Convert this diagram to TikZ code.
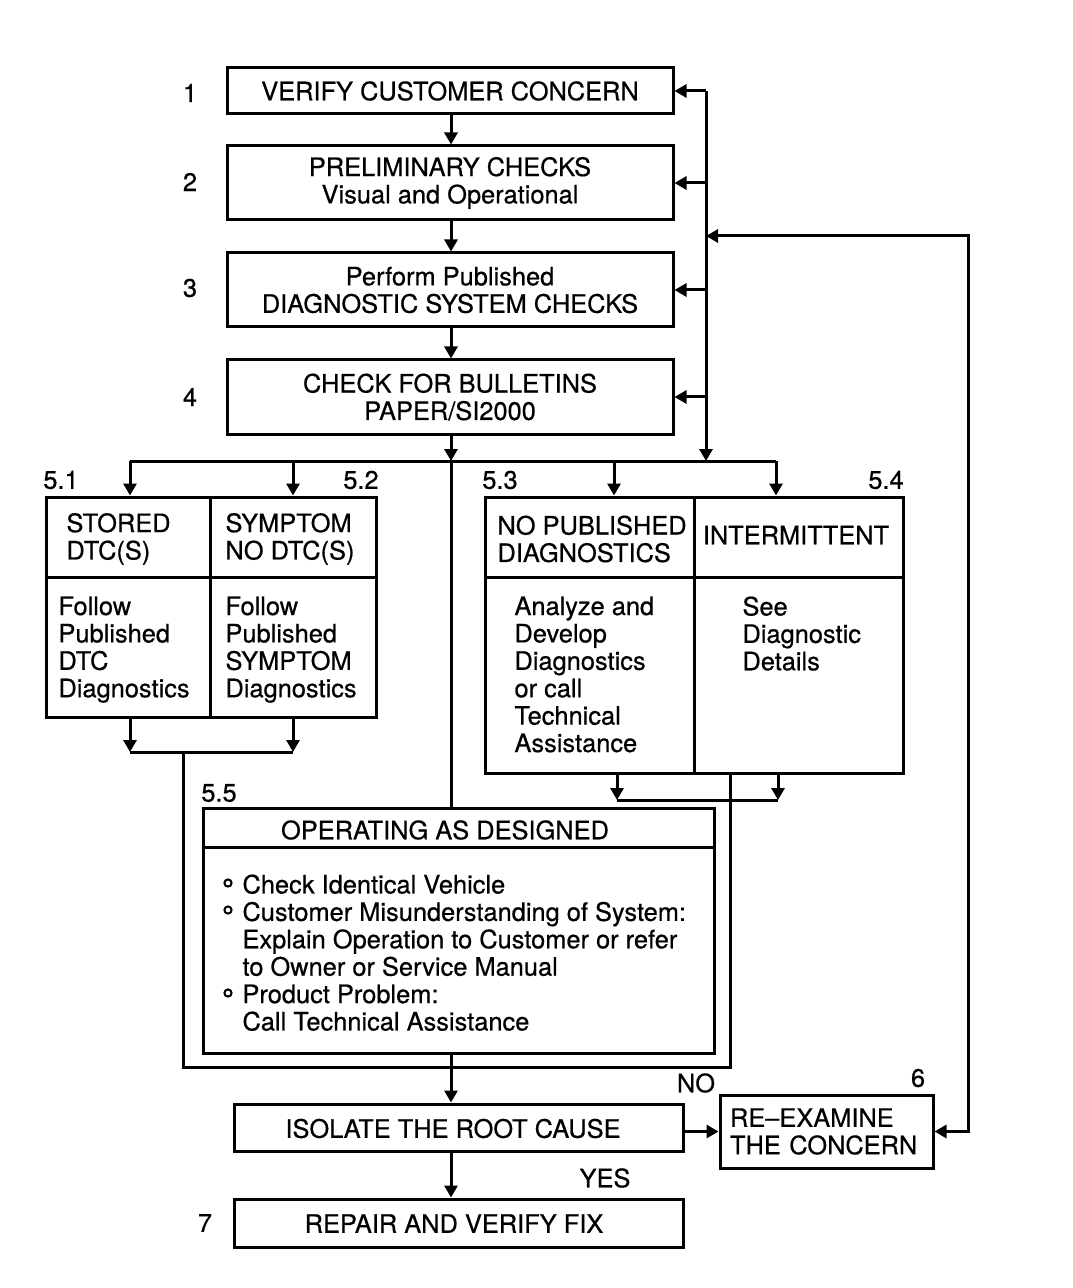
\documentclass[tikz,border=0pt]{standalone}
\usepackage{fontspec}
\setmainfont{TeX Gyre Heros}[FakeBold=0.6]
\usetikzlibrary{arrows.meta}

\begin{document}
\begin{tikzpicture}[x = 0.5pt, y = -0.5pt, line width = 1.5pt]
	\tikzstyle{boxStyle} = [draw, rectangle, inner sep = 0pt, line width = 1.5pt]
	\tikzstyle{textStyle} = [inner sep = 0pt, align = left, font = \fontsize{12.7}{13.7}\selectfont]
	\tikzstyle{numStyle} = [inner sep = 0pt, font = \fontsize{12.7}{13.7}\selectfont]
	\tikzstyle{arrowStyle} = [-{Triangle[length = 6pt, width = 6.5pt]}]
	\tikzstyle{bothStyle} = [{Triangle[length = 6pt, width = 6.5pt]}-{Triangle[length = 6pt, width = 6.5pt]}]
	\useasboundingbox (0,0) rectangle (1072,1288);
	% main steps
	\node[boxStyle, textStyle, align = center, minimum width = 223pt, minimum height = 23pt] (verify) at (450,91) {VERIFY CUSTOMER CONCERN};
	\node[boxStyle, textStyle, align = center, minimum width = 223pt, minimum height = 37pt] (prelim) at (450,183) {PRELIMINARY CHECKS\\Visual and Operational};
	\node[boxStyle, textStyle, align = center, minimum width = 223pt, minimum height = 37pt] (perform) at (450,290) {Perform Published\\DIAGNOSTIC SYSTEM CHECKS};
	\node[boxStyle, textStyle, align = center, minimum width = 223pt, minimum height = 37pt] (bulletin) at (450,397) {CHECK FOR BULLETINS\\PAPER/SI2000};
	\node[numStyle] (n1) at (190,93) {1};
	\node[numStyle] (n2) at (190,182) {2};
	\node[numStyle] (n3) at (190,288) {3};
	\node[numStyle] (n4) at (190,397) {4};
	% cells 5.1 to 5.4
	\node[boxStyle, minimum width = 82pt, minimum height = 40pt] (stored) at (128,537) {};
	\node[boxStyle, minimum width = 83pt, minimum height = 40pt] (symptom) at (293,537) {};
	\node[boxStyle, minimum width = 82pt, minimum height = 70pt] (followdtc) at (128,647) {};
	\node[boxStyle, minimum width = 83pt, minimum height = 70pt] (followsym) at (293,647) {};
	\node[boxStyle, minimum width = 104.5pt, minimum height = 40pt] (nopub) at (589.5,537) {};
	\node[boxStyle, minimum width = 104.5pt, minimum height = 40pt] (intermit) at (798.5,537) {};
	\node[boxStyle, minimum width = 104.5pt, minimum height = 98pt] (analyze) at (589.5,675) {};
	\node[boxStyle, minimum width = 104.5pt, minimum height = 98pt] (seediag) at (798.5,675) {};
	\node[textStyle, anchor = west] (storedText) at (65,539) {STORED\\DTC(S)};
	\node[textStyle, anchor = west] (symptomText) at (224,539) {SYMPTOM\\NO DTC(S)};
	\node[textStyle, anchor = west] (nopubText) at (496,539) {NO PUBLISHED\\DIAGNOSTICS};
	\node[textStyle] (intermitText) at (796,535) {INTERMITTENT};
	\node[textStyle, anchor = north west] (followdtcText) at (57,595) {Follow\\Published\\DTC\\Diagnostics};
	\node[textStyle, anchor = north west] (followsymText) at (224,595) {Follow\\Published\\SYMPTOM\\Diagnostics};
	\node[textStyle, anchor = north west] (analyzeText) at (513,595) {Analyze and\\Develop\\Diagnostics\\or call\\Technical\\Assistance};
	\node[textStyle, anchor = north west] (seediagText) at (741,595) {See\\Diagnostic\\Details};
	\node[numStyle] (n51) at (61,480) {5.1};
	\node[numStyle] (n52) at (361,480) {5.2};
	\node[numStyle] (n53) at (500,480) {5.3};
	\node[numStyle] (n54) at (886,480) {5.4};
	% 5.5
	\node[boxStyle, minimum width = 255.5pt, minimum height = 122.5pt] (oper) at (458.5,930.5) {};
	\draw (oper.west |- 0,847) -- (oper.east |- 0,847);
	\node[textStyle] (operHead) at (445,830) {OPERATING AS DESIGNED};
	\node[textStyle, anchor = north west] (operText) at (241,873) {Check Identical Vehicle\\Customer Misunderstanding of System:\\Explain Operation to Customer or refer\\to Owner or Service Manual\\Product Problem:\\Call Technical Assistance};
	\foreach \y in {883,910,993}
		\draw[line width = 1pt] (228,\y) circle (1.8pt);
	\node[numStyle] (n55) at (219,793) {5.5};
	% last steps
	\node[boxStyle, minimum width = 224.5pt, minimum height = 23.5pt] (isolate) at (458.5,1127.5) {};
	\node[textStyle] (isolateText) at (453,1128.5) {ISOLATE THE ROOT CAUSE};
	\node[boxStyle, textStyle, text width = 96.5pt, inner xsep = 5pt, minimum height = 36.5pt] (reexam) at (826.5,1131.5) {RE--EXAMINE\\THE CONCERN};
	\node[boxStyle, minimum width = 224.5pt, minimum height = 24pt] (repair) at (458.5,1223) {};
	\node[textStyle] (repairText) at (454,1223.5) {REPAIR AND VERIFY FIX};
	\node[numStyle] (n6) at (918,1078) {6};
	\node[numStyle] (n7) at (205,1223) {7};
	\node[numStyle] (no) at (696,1083) {NO};
	\node[numStyle] (yes) at (605,1178) {YES};
	% connectors
	\coordinate (bus) at (706,461);
	\coordinate (loop) at (968,236);
	\coordinate (split) at (451,461);
	\coordinate (drop1) at (130,461);
	\coordinate (drop2) at (293,461);
	\coordinate (drop3) at (614,461);
	\coordinate (drop4) at (776,461);
	\coordinate (join1) at (130,752);
	\coordinate (join2) at (293,752);
	\coordinate (join3) at (617,800);
	\coordinate (join4) at (778,800);
	\coordinate (frameL) at (183,752);
	\coordinate (frameR) at (730,1067);
	\draw[arrowStyle] (split |- verify.south) -- (split |- prelim.north);
	\draw[arrowStyle] (split |- prelim.south) -- (split |- perform.north);
	\draw[arrowStyle] (split |- perform.south) -- (split |- bulletin.north);
	\draw[arrowStyle] (split |- bulletin.south) -- (split);
	\draw[arrowStyle] (bus |- verify.east) -- (bus);
	\foreach \n in {verify,prelim,perform,bulletin}
		\draw[arrowStyle] (bus |- \n.east) -- (\n.east);
	\draw[bothStyle] (bus |- loop) -- (loop) |- (reexam.east);
	\draw (drop1) -- (drop4);
	\draw[arrowStyle] (drop1) -- (drop1 |- stored.north);
	\draw[arrowStyle] (drop2) -- (drop2 |- symptom.north);
	\draw[arrowStyle] (drop3) -- (drop3 |- nopub.north);
	\draw[arrowStyle] (drop4) -- (drop4 |- intermit.north);
	\draw (split) -- (split |- oper.north);
	\draw[arrowStyle] (join1 |- followdtc.south) -- (join1);
	\draw[arrowStyle] (join2 |- followsym.south) -- (join2);
	\draw (join1) -- (join2);
	\draw[arrowStyle] (join3 |- analyze.south) -- (join3);
	\draw[arrowStyle] (join4 |- seediag.south) -- (join4);
	\draw (join3) -- (join4);
	\draw (frameL) |- (frameR) -- (frameR |- seediag.south);
	\draw[arrowStyle] (split |- oper.south) -- (split |- isolate.north);
	\draw[arrowStyle] (isolate.east |- reexam.west) -- (reexam.west);
	\draw[arrowStyle] (split |- isolate.south) -- (split |- repair.north);
\end{tikzpicture}
\end{document}
